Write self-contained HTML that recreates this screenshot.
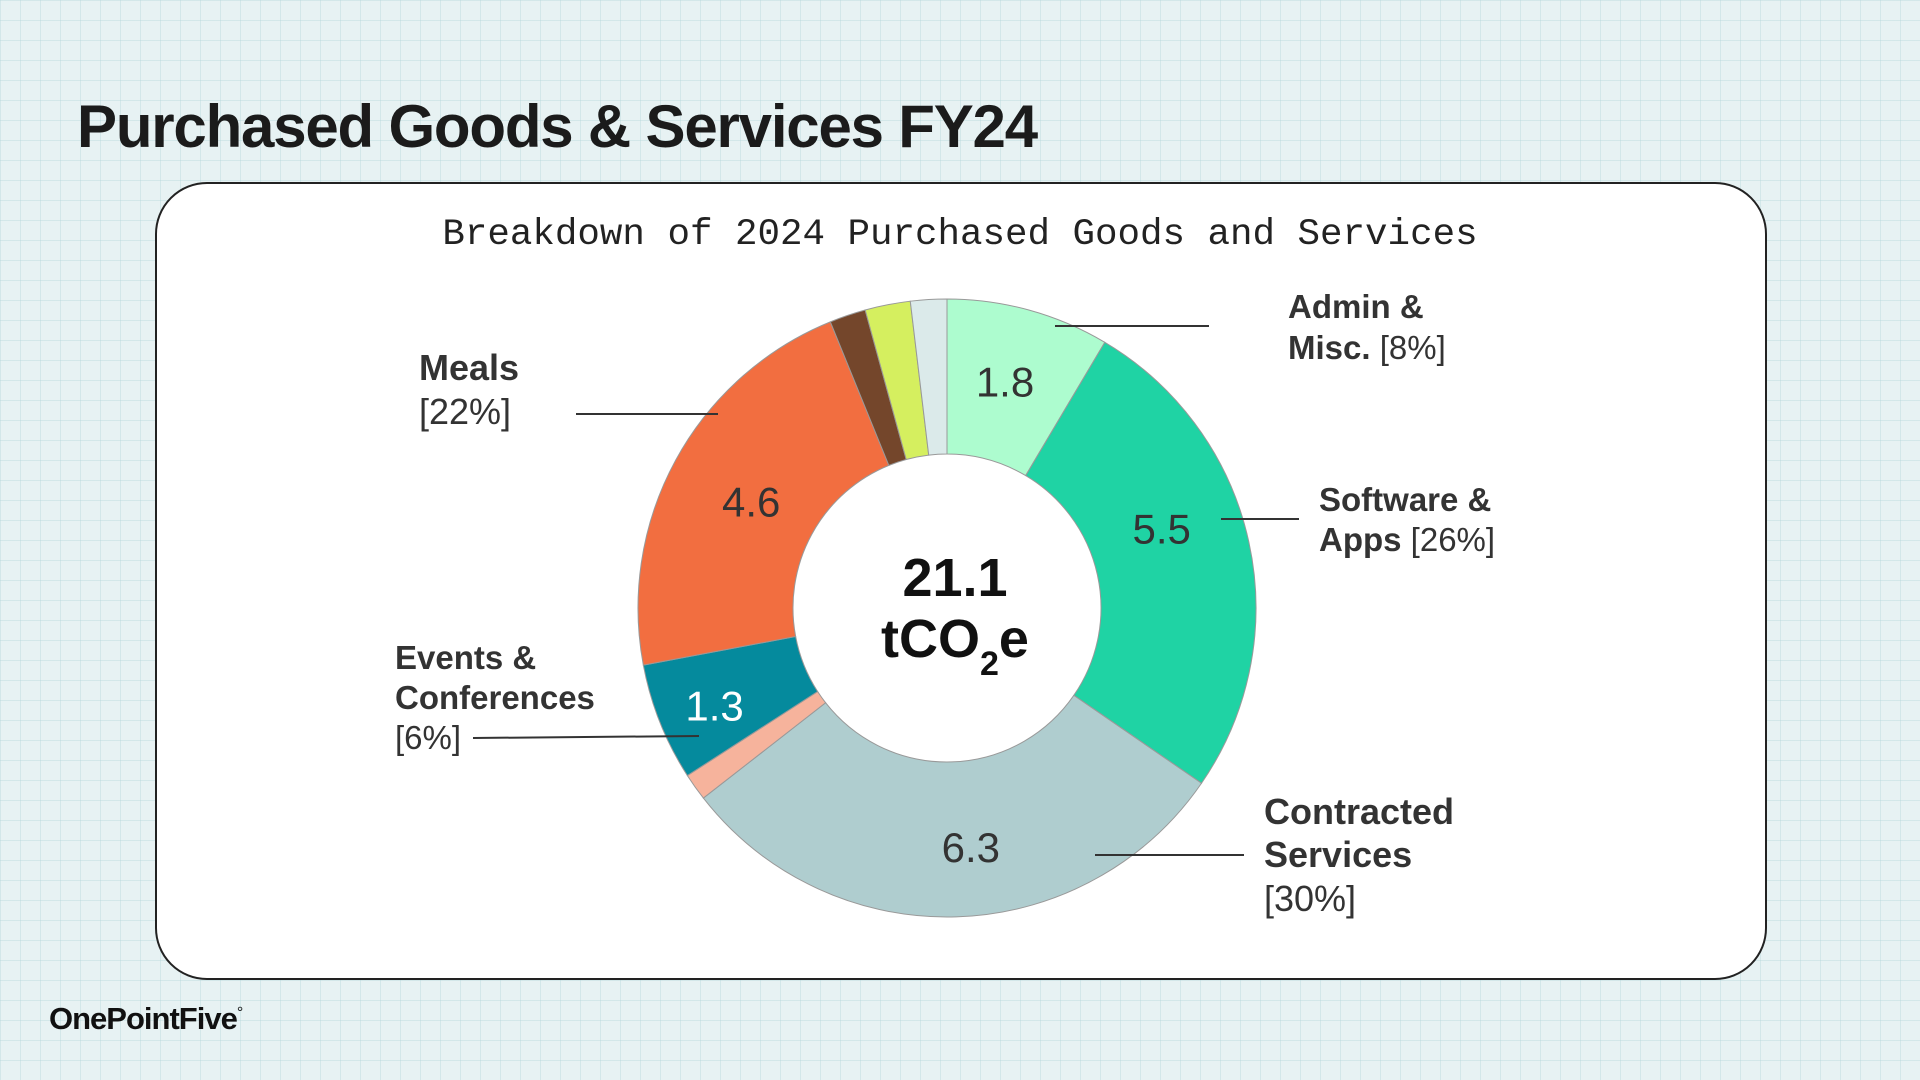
<!DOCTYPE html>
<html><head><meta charset="utf-8"><style>
html,body{margin:0;padding:0}
body{width:1920px;height:1080px;position:relative;overflow:hidden;font-family:"Liberation Sans",sans-serif;
background-color:#e7f2f3;
background-image:linear-gradient(rgba(175,210,215,0.35) 1px,transparent 1px),linear-gradient(90deg,rgba(175,210,215,0.35) 1px,transparent 1px);
background-size:20px 20px;}
#title{position:absolute;left:77px;top:92px;font-size:60px;font-weight:bold;color:#1b1b1b;letter-spacing:-1.2px;margin:0}
#card{position:absolute;left:155px;top:182px;width:1608px;height:794px;background:#fff;border:2px solid #222;border-radius:52px}
#logo{position:absolute;left:49px;top:1001px;font-size:31px;font-weight:bold;color:#111;letter-spacing:-1px}
svg{position:absolute;left:0;top:0}
</style></head><body>
<h1 id="title">Purchased Goods &amp; Services FY24</h1>
<div id="card"></div>
<div id="logo">OnePointFive<sup style="font-size:16px;font-weight:normal">°</sup></div>
<svg id="chart" width="1920" height="1080">
<text x="960" y="244" text-anchor="middle" font-family="Liberation Mono, monospace" font-size="37.5" fill="#222">Breakdown of 2024 Purchased Goods and Services</text>
</svg>
<script>
const categories=["Admin & Misc.","Software & Apps","Contracted Services","Other A","Events & Conferences","Meals","Other B","Other C","Other D"];
const values=[1.8,5.5,6.3,0.3,1.3,4.6,0.4,0.5,0.4];
const colors=["#adfccf","#1fd3a4","#afcdcf","#f6b39c","#058a9d","#f26e40","#74462b","#d5ef5f","#dbeaea"];
const valueLabels=["1.8","5.5","6.3","","1.3","4.6","","",""];
const labelColors=["#333","#333","#333","#333","#fff","#333","#333","#333","#333"];
const labelAngleOffsetDeg=[-1,-8,-4,0,-1,0,0,0,0];
const labelRadius=[234,229,240,235,252,223,235,235,235];
const totalLabel="21.1";
const cx=947,cy=608,R=309,r=154;
const svg=document.getElementById('chart');
const NS="http://www.w3.org/2000/svg";
const total=values.reduce((a,b)=>a+b,0);
function angleOf(v){return v/total*2*Math.PI;}
function pt(a,rad){return [cx+rad*Math.sin(a),cy-rad*Math.cos(a)];}
let acc=0;
values.forEach((v,i)=>{
  const a0=angleOf(acc),a1=angleOf(acc+v);acc+=v;
  const large=(a1-a0)>Math.PI?1:0;
  const p0=pt(a0,R),p1=pt(a1,R),q1=pt(a1,r),q0=pt(a0,r);
  const p=document.createElementNS(NS,'path');
  p.setAttribute('d',`M${p0[0]},${p0[1]} A${R},${R} 0 ${large} 1 ${p1[0]},${p1[1]} L${q1[0]},${q1[1]} A${r},${r} 0 ${large} 0 ${q0[0]},${q0[1]} Z`);
  p.setAttribute('fill',colors[i]);p.setAttribute('stroke','#999');p.setAttribute('stroke-width','1');
  
  
  svg.appendChild(p);
  if(valueLabels[i]){
    const m=(a0+a1)/2+labelAngleOffsetDeg[i]*Math.PI/180,lp=pt(m,labelRadius[i]);
    const t=document.createElementNS(NS,'text');
    t.setAttribute('x',lp[0]);t.setAttribute('y',lp[1]+15);t.setAttribute('text-anchor','middle');
    t.setAttribute('font-size','42');t.setAttribute('fill',labelColors[i]);t.setAttribute('font-family','Liberation Sans, sans-serif');
    t.textContent=valueLabels[i];
    
    
    svg.appendChild(t);
  }
});
function addText(x,y,html,size,name,anchor,weight){
  const t=document.createElementNS(NS,'text');
  t.setAttribute('x',x);t.setAttribute('y',y);t.setAttribute('font-size',size);
  t.setAttribute('fill','#111');t.setAttribute('font-family','Liberation Sans, sans-serif');
  if(anchor)t.setAttribute('text-anchor',anchor);
  if(weight)t.setAttribute('font-weight',weight);
  t.innerHTML=html;
  
  
  svg.appendChild(t);
}
addText(955,596,totalLabel,54,'center-total','middle','bold');
addText(955,657,'tCO<tspan font-size="34" dy="18">2</tspan><tspan dy="-18">e</tspan>',54,'center-unit','middle','bold');
function line(x1,y1,x2,y2,name){
  const l=document.createElementNS(NS,'line');
  l.setAttribute('x1',x1);l.setAttribute('y1',y1);l.setAttribute('x2',x2);l.setAttribute('y2',y2);
  l.setAttribute('stroke','#333');l.setAttribute('stroke-width','2');
  
  
  svg.appendChild(l);
}
line(1055,326,1209,326,'leader-admin');
line(1221,519,1299,519,'leader-software');
line(1095,855,1244,855,'leader-contracted');
line(576,414,718,414,'leader-meals');
line(473,738,699,736,'leader-events');
const B='font-weight="bold" fill="#333"', N='fill="#333"';
addText(1288,318,`<tspan ${B}>Admin &amp;</tspan>`,33,'label-admin');
addText(1288,359,`<tspan ${B}>Misc.</tspan><tspan ${N}> [8%]</tspan>`,33,'label-admin-pct');
addText(1319,511,`<tspan ${B}>Software &amp;</tspan>`,33,'label-software');
addText(1319,551,`<tspan ${B}>Apps</tspan><tspan ${N}> [26%]</tspan>`,33,'label-software-pct');
addText(1264,824,`<tspan ${B}>Contracted</tspan>`,36,'label-contracted');
addText(1264,867,`<tspan ${B}>Services</tspan>`,36,'label-contracted-2');
addText(1264,911,`<tspan ${N}>[30%]</tspan>`,36,'label-contracted-pct');
addText(419,380,`<tspan ${B}>Meals</tspan>`,36,'label-meals');
addText(419,424,`<tspan ${N}>[22%]</tspan>`,36,'label-meals-pct');
addText(395,669,`<tspan ${B}>Events &amp;</tspan>`,33,'label-events');
addText(395,709,`<tspan ${B}>Conferences</tspan>`,33,'label-events-2');
addText(395,749,`<tspan ${N}>[6%]</tspan>`,33,'label-events-pct');
</script>
</body></html>
